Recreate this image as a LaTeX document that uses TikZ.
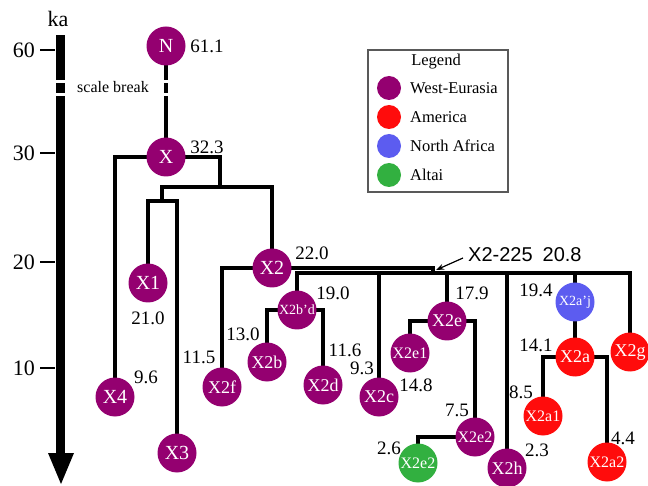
\documentclass[tikz,border=0pt]{standalone}
\usepackage{fontspec}
\setmainfont{Liberation Serif}
\newfontfamily\arialf{Liberation Sans}
\usetikzlibrary{backgrounds,arrows.meta}
\definecolor{weu}{RGB}{148,0,112}
\definecolor{ame}{RGB}{255,12,12}
\definecolor{naf}{RGB}{92,92,240}
\definecolor{alt}{RGB}{50,176,64}
\tikzset{
  hap/.style={circle, minimum size=39pt, inner sep=0pt, text=white, font=\fontsize{20}{20}\selectfont},
  we/.style={hap, fill=weu},
  am/.style={hap, fill=ame},
  na/.style={hap, fill=naf},
  al/.style={hap, fill=alt},
  md/.style={font=\fontsize{18}{18}\selectfont},
  sm/.style={font=\fontsize{16}{16}\selectfont},
  xs/.style={font=\fontsize{14}{14}\selectfont},
  age/.style={font=\fontsize{19}{19}\selectfont, inner sep=0pt},
  axl/.style={font=\fontsize{22}{22}\selectfont, inner sep=0pt},
  br/.style={line width=3.3pt, line cap=rect, line join=miter},
  tick/.style={line width=1.2pt},
  legc/.style={circle, minimum size=24pt, inner sep=0pt},
  legt/.style={font=\fontsize{16.5}{16.5}\selectfont, anchor=west, inner sep=0pt},
}
\begin{document}
\begin{tikzpicture}[x=1pt,y=-1pt]
\useasboundingbox (0,0) rectangle (648,486);
\clip (0,0) rectangle (648,486);
% axis
\fill[black] (55.5,35) rectangle (64.5,454);
\fill[black] (48,453) -- (74,453) -- (61,484) -- cycle;
\node[axl] (ka) at (58,19) {ka};
\draw[tick] (40,50) -- (55,50);
\draw[tick] (40,153) -- (55,153);
\draw[tick] (40,262) -- (55,262);
\draw[tick] (40,368) -- (55,368);
\node[axl, anchor=east] (t60) at (35,50) {60};
\node[axl, anchor=east] (t30) at (35,153) {30};
\node[axl, anchor=east] (t20) at (35,262) {20};
\node[axl, anchor=east] (t10) at (35,368) {10};
\node[font=\fontsize{16}{16}\selectfont, inner sep=0pt] (sb) at (113,87) {scale break};

% nodes
\node[we] (N) at (166,46) {N};
\node[we] (X) at (166,157) {X};
\node[we] (X1) at (148,283) {X1};
\node[we] (X3) at (177,453) {X3};
\node[we] (X4) at (115,397) {X4};
\node[we] (X2) at (272,268) {X2};
\node[we, md] (X2f) at (222,387) {X2f};
\node[we, xs] (X2bd) at (297,310) {X2b'd};
\node[we, md] (X2b) at (267,362) {X2b};
\node[we, md] (X2d) at (323,385) {X2d};
\node[we, md] (X2c) at (379,397) {X2c};
\node[we, md] (X2e) at (447,321) {X2e};
\node[we, sm] (X2e1) at (410,353) {X2e1};
\node[we, sm] (X2e2) at (475,437) {X2e2};
\node[al, sm] (X2e2g) at (418,463) {X2e2};
\node[we, md] (X2h) at (507,468) {X2h};
\node[na, xs] (X2aj) at (575,302) {X2a'j};
\node[am, md] (X2a) at (575,357) {X2a};
\node[am, sm] (X2a1) at (543,416) {X2a1};
\node[am, sm] (X2a2) at (607,462) {X2a2};
\node[am, md] (X2g) at (630,352) {X2g};

\coordinate (c1) at (220,187);
\coordinate (c2) at (162,187);
\coordinate (c4) at (162,201);
\coordinate (c5) at (433,273);
\coordinate (bR) at (630,273);

\begin{pgfonlayer}{background}
\draw[br] (N) -- (X);
\draw[br] (X4) |- (X) -| (c1);
\draw[br] (c4) -- (c2) -| (X2);
\draw[br] (X1) |- (c4) -| (X3);
\draw[br] (X2f) |- (X2) -| (c5);
\draw[br] (X2bd) |- (bR) -- (X2g);
\draw[br] (X2b) |- (X2bd) -| (X2d);
\draw[br] (X2c) -- (X2c |- bR);
\draw[br] (X2e) -- (X2e |- bR);
\draw[br] (X2e1) |- (X2e) -| (X2e2);
\draw[br] (X2e2g) |- (X2e2);
\draw[br] (X2h) -- (X2h |- bR);
\draw[br] (X2aj) -- (X2aj |- bR);
\draw[br] (X2aj) -- (X2a);
\draw[br] (X2a1) |- (X2a) -| (X2a2);
\end{pgfonlayer}

% scale break gaps
\fill[white] (50,80.5) rectangle (70,83.5);
\fill[white] (50,93) rectangle (70,96);
\fill[white] (158,80.5) rectangle (174,83.5);
\fill[white] (158,93) rectangle (174,96);

% ages
\node[age] (aN) at (207,46) {61.1};
\node[age] (aX) at (207,147) {32.3};
\node[age] (aX1) at (148,318) {21.0};
\node[age] (aX4) at (146,377) {9.6};
\node[age] (aX2) at (312,253) {22.0};
\node[age] (aX2bd) at (333,293) {19.0};
\node[age] (aX2b) at (243,334) {13.0};
\node[age] (aX2f) at (199,357) {11.5};
\node[age] (aX2d) at (345,350) {11.6};
\node[age] (aX2c) at (362,368) {9.3};
\node[age] (aX2e1) at (416,385) {14.8};
\node[age] (aX2e) at (472,293) {17.9};
\node[age] (aX2e2) at (457,410) {7.5};
\node[age] (aX2e2g) at (389,448) {2.6};
\node[age] (aX2h) at (537,450) {2.3};
\node[age] (aX2aj) at (536,290) {19.4};
\node[age] (aX2a) at (536,345) {14.1};
\node[age] (aX2a1) at (521,392) {8.5};
\node[age] (aX2a2) at (623,438) {4.4};

% X2-225 label
\node[inner sep=0pt, anchor=west, font=\arialf\fontsize{20}{20}\selectfont] (lab) at (468,255) {X2-225\hspace{10pt}20.8};
\coordinate (arrS) at (463,258);
\coordinate (arrE) at (436,270);
\draw[line width=1.2pt, -{Stealth[length=8pt,width=6pt]}] (arrS) -- (arrE);

% legend
\draw[line width=1.2pt, black!65] (368,50) rectangle (508,192);
\node[font=\fontsize{16.5}{16.5}\selectfont, inner sep=0pt] (legT) at (436,62) {Legend};
\node[legc, fill=weu] (l1) at (389,88) {};
\node[legc, fill=ame] (l2) at (389,117) {};
\node[legc, fill=naf] (l3) at (389,146) {};
\node[legc, fill=alt] (l4) at (389,175) {};
\node[legt] (lt1) at (410,88) {West-Eurasia};
\node[legt] (lt2) at (410,117) {America};
\node[legt] (lt3) at (410,146) {North Africa};
\node[legt] (lt4) at (410,175) {Altai};
\end{tikzpicture}
\end{document}
